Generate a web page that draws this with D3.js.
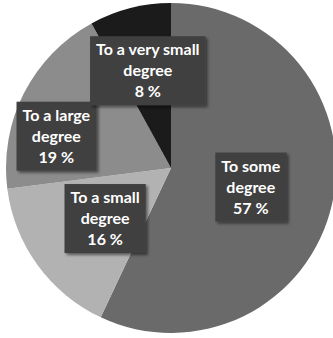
<!DOCTYPE html>
<html><head><meta charset="utf-8">
<script src="https://cdn.jsdelivr.net/npm/d3@7"></script>
<style>html,body{margin:0;padding:0;background:#fff;}svg{display:block;}</style>
</head><body>
<script>
const categories = ["To some degree", "To a small degree", "To a large degree", "To a very small degree"];
const values = [57, 16, 19, 8];
const labelLines = [["To some", "degree"], ["To a small", "degree"], ["To a large", "degree"], ["To a very small", "degree"]];

const colors = ["#6a6a6a", "#b2b2b2", "#8c8c8c", "#1b1b1b"];
// label placement: radius from centre and angular shift (degrees) for each slice
const labelLayout = [{r: 82, shift: 0.8}, {r: 83, shift: -1.5}, {r: 119, shift: -11.5}, {r: 100, shift: 1}];

const W = 333, H = 338, cx = 171, cy = 168, R = 165;
const svg = d3.select("body").append("svg").attr("width", W).attr("height", H);
const defs = svg.append("defs");
const f = defs.append("filter").attr("id", "sh").attr("x", "-20%").attr("y", "-20%").attr("width", "150%").attr("height", "150%");
f.append("feGaussianBlur").attr("in", "SourceAlpha").attr("stdDeviation", 1.5);
f.append("feOffset").attr("dx", 2).attr("dy", 2).attr("result", "o");
f.append("feComponentTransfer").append("feFuncA").attr("type", "linear").attr("slope", 0.5);
const m = f.append("feMerge"); m.append("feMergeNode"); m.append("feMergeNode").attr("in", "SourceGraphic");

const data = categories.map((c, i) => ({c, v: values[i], i}));
const pie = d3.pie().value(d => d.v).sort(null);
const arcs = pie(data);
const arc = d3.arc().innerRadius(0).outerRadius(R);
const g = svg.append("g").attr("transform", `translate(${cx},${cy})`);
g.selectAll("path.slice").data(arcs).join("path").attr("class", "slice")
  .attr("d", arc).attr("fill", d => colors[d.data.i]).attr("stroke", "none");

const lg = g.selectAll("g.lab").data(arcs).join("g").attr("class", "lab")
  .attr("transform", d => {
    const L = labelLayout[d.data.i];
    const a = (d.startAngle + d.endAngle) / 2 + L.shift * Math.PI / 180;
    return `translate(${L.r * Math.sin(a)},${-L.r * Math.cos(a)})`;
  });
const lh = 21;
lg.each(function(d) {
  const s = d3.select(this);
  const lines = labelLines[d.data.i].concat([d.data.v + " %"]);
  const rect = s.append("rect").attr("fill", "#414141").attr("filter", "url(#sh)");
  const t = s.append("text").attr("text-anchor", "middle").attr("fill", "#fff")
    .style("font-family", "Lato, 'Open Sans', sans-serif").style("font-weight", "bold").style("font-size", "16px");
  lines.forEach((ln, k) => {
    t.append("tspan").attr("x", 0).attr("y", (k - 1) * lh).attr("dy", "0.35em").text(ln);
  });
  const bb = t.node().getBBox();
  rect.attr("x", bb.x - 6).attr("y", -lh * 1.5 - 3).attr("width", bb.width + 12).attr("height", lh * 3 + 6);
});
</script>
</body></html>
